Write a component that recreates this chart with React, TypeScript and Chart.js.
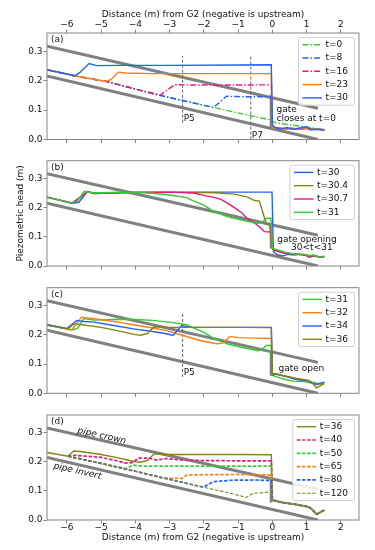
import React, { useEffect, useRef } from 'react';
import { Chart, registerables } from 'chart.js';
Chart.register(...registerables);

const FONT = '"DejaVu Sans", Verdana, sans-serif';
const X_MIN = -6.58, X_MAX = 2.53, Y_MIN = 0, Y_MAX = 0.362;
const xTickValues = [-6, -5, -4, -3, -2, -1, 0, 1, 2];
const yTickValues = [0, 0.1, 0.2, 0.3];
const X_TITLE = 'Distance (m) from G2 (negative is upstream)';
const Y_TITLE = 'Piezometric head (m)';

const GREEN = '#33cc33', BLUE = '#2160ff', MAGENTA = '#e8177f', ORANGE = '#ff7f0e', OLIVE = '#858510';
const GRAY = '#808080', FRAME = '#858585', TEXT = '#111';

// pipe geometry
const pipeX = [-6.58, 1.33];
const crownY = [0.317, 0.106];
const invertY = [0.216, 0.0];
const gateX = [-0.04, -0.04];
const gateA = [0.036, 0.152];
const gateB = [0.06, 0.14];
const gateC = [0.06, 0.147];
const gateD = [0.06, 0.14];
const p5X = [-2.62, -2.62];
const p5Y = [0.057, 0.284];
const p7X = [-0.63, -0.63];
const p7Y = [0.0, 0.284];

// Panel (a)
const a_t0_x = [-6.58, -5.76, -4.84, -3.28, -1.73, -0.6, -0.03, 0.0, 0.11, 0.5, 0.98, 1.3, 1.52];
const a_t0_y = [0.237, 0.216, 0.197, 0.150, 0.109, 0.080, 0.066, 0.062, 0.056, 0.050, 0.043, 0.037, 0.034];
const a_t8_x = [-6.58, -5.76, -4.84, -3.28, -1.73, -1.55, -1.34, -1.0, -0.5, -0.03, 0.0, 0.1, 0.5, 1.0, 1.3, 1.52];
const a_t8_y = [0.237, 0.216, 0.197, 0.150, 0.109, 0.125, 0.147, 0.146, 0.145, 0.146, 0.045, 0.040, 0.037, 0.036, 0.035, 0.033];
const a_t16_x = [-6.58, -5.76, -4.84, -3.28, -3.05, -2.85, -2.0, -1.0, -0.03, 0.0, 0.1, 0.5, 1.0, 1.3, 1.52];
const a_t16_y = [0.237, 0.216, 0.197, 0.150, 0.170, 0.186, 0.185, 0.185, 0.186, 0.045, 0.040, 0.037, 0.036, 0.035, 0.033];
const a_t23_x = [-6.58, -5.76, -4.84, -4.7, -4.5, -4.3, -3.5, -2.0, -1.0, -0.03, 0.0, 0.06, 0.2, 0.4, 0.55, 0.74, 0.93, 1.08, 1.27, 1.52];
const a_t23_y = [0.237, 0.216, 0.197, 0.205, 0.229, 0.226, 0.224, 0.224, 0.224, 0.224, 0.045, 0.037, 0.039, 0.033, 0.040, 0.034, 0.042, 0.034, 0.037, 0.033];
const a_t30_x = [-6.58, -5.76, -5.62, -5.35, -5.13, -4.5, -3.0, -1.0, -0.03, 0.0, 0.08, 0.25, 0.42, 0.6, 0.8, 1.0, 1.12, 1.3, 1.52];
const a_t30_y = [0.237, 0.217, 0.228, 0.258, 0.251, 0.252, 0.252, 0.253, 0.254, 0.05, 0.040, 0.035, 0.041, 0.035, 0.039, 0.043, 0.033, 0.035, 0.031];

// Panel (b)
const b_t30_x = [-6.58, -5.81, -5.65, -5.4, -5.2, -4.0, -2.0, -0.5, -0.01, 0.03, 0.15, 0.3, 0.45, 0.64, 0.8, 0.93, 1.08, 1.2, 1.37, 1.52];
const b_t30_y = [0.237, 0.216, 0.219, 0.256, 0.250, 0.253, 0.254, 0.254, 0.254, 0.049, 0.038, 0.035, 0.040, 0.038, 0.040, 0.038, 0.030, 0.034, 0.032, 0.033];
const b_t304_x = [-6.58, -5.85, -5.6, -5.4, -5.2, -4.0, -2.5, -1.69, -1.11, -0.72, -0.52, -0.38, -0.28, -0.18, -0.08, 0.0, 0.06, 0.35, 0.64, 0.93, 1.08, 1.2, 1.37, 1.52];
const b_t304_y = [0.237, 0.216, 0.235, 0.256, 0.249, 0.253, 0.253, 0.252, 0.247, 0.237, 0.225, 0.223, 0.185, 0.146, 0.140, 0.061, 0.055, 0.045, 0.041, 0.039, 0.031, 0.035, 0.031, 0.032];
const b_t307_x = [-6.58, -5.85, -5.6, -5.4, -5.2, -4.0, -3.0, -2.3, -2.0, -1.7, -1.5, -1.3, -1.1, -0.9, -0.7, -0.5, -0.33, -0.23, -0.03, 0.0, 0.06, 0.35, 0.64, 0.93, 1.08, 1.2, 1.37, 1.52];
const b_t307_y = [0.237, 0.216, 0.238, 0.256, 0.249, 0.253, 0.254, 0.251, 0.243, 0.236, 0.229, 0.215, 0.200, 0.183, 0.160, 0.146, 0.130, 0.118, 0.117, 0.06, 0.054, 0.044, 0.042, 0.038, 0.033, 0.036, 0.031, 0.032];
const t31_x = [-6.58, -5.85, -5.7, -5.5, -5.2, -4.5, -4.0, -3.5, -3.0, -2.5, -2.31, -2.0, -1.73, -1.3, -0.9, -0.43, -0.3, -0.18, -0.04, 0.0, 0.08, 0.35, 0.64, 0.93, 1.08, 1.2, 1.37, 1.52];
const t31_y = [0.235, 0.217, 0.222, 0.256, 0.251, 0.254, 0.253, 0.250, 0.244, 0.235, 0.224, 0.209, 0.189, 0.169, 0.158, 0.146, 0.150, 0.164, 0.164, 0.062, 0.058, 0.048, 0.041, 0.040, 0.036, 0.038, 0.031, 0.033];

// Panel (c)
const c_t32_x = [-6.58, -5.86, -5.75, -5.57, -5.4, -5.0, -4.5, -4.06, -3.5, -3.09, -2.6, -2.12, -1.63, -1.45, -1.24, -1.0, -0.5, -0.03, 0.0, 0.11, 0.5, 0.69, 1.03, 1.18, 1.3, 1.52];
const c_t32_y = [0.235, 0.217, 0.235, 0.261, 0.258, 0.252, 0.244, 0.235, 0.224, 0.215, 0.198, 0.181, 0.170, 0.172, 0.195, 0.191, 0.189, 0.188, 0.063, 0.065, 0.055, 0.048, 0.043, 0.035, 0.030, 0.034];
const c_t34_x = [-6.58, -6.0, -5.71, -5.5, -5.2, -4.8, -4.06, -3.5, -3.09, -2.9, -2.65, -2.4, -1.5, -0.5, -0.03, 0.0, 0.11, 0.5, 0.69, 1.03, 1.18, 1.3, 1.52];
const c_t34_y = [0.235, 0.222, 0.250, 0.246, 0.244, 0.236, 0.221, 0.212, 0.204, 0.198, 0.232, 0.226, 0.226, 0.226, 0.226, 0.063, 0.066, 0.055, 0.047, 0.043, 0.033, 0.031, 0.039];
const t36_x = [-6.58, -5.97, -5.8, -5.6, -5.0, -4.5, -4.23, -4.0, -3.85, -3.65, -3.45, -3.0, -2.0, -1.0, -0.03, 0.0, 0.08, 0.3, 0.69, 1.03, 1.13, 1.29, 1.52];
const t36_y = [0.233, 0.220, 0.238, 0.236, 0.226, 0.214, 0.207, 0.201, 0.199, 0.205, 0.228, 0.226, 0.226, 0.226, 0.225, 0.066, 0.068, 0.061, 0.052, 0.045, 0.040, 0.019, 0.034];

// Panel (d)
const d_t40_x = [-5.97, -5.75, -5.0, -4.5, -4.3, -4.1, -3.88, -3.6, -3.39, -3.1, -2.6, -2.0, -1.0, -0.03, 0.0, 0.08, 0.3, 0.69, 1.03, 1.13, 1.29, 1.52];
const d_t40_y = [0.220, 0.223, 0.216, 0.203, 0.196, 0.198, 0.214, 0.213, 0.207, 0.212, 0.206, 0.205, 0.204, 0.204, 0.069, 0.066, 0.060, 0.054, 0.046, 0.040, 0.020, 0.034];
const d_t50_x = [-5.97, -5.0, -4.27, -4.07, -3.8, -3.0, -2.0, -1.0, -0.03, 0.0, 0.08, 0.3, 0.69, 1.03, 1.13, 1.29, 1.52];
const d_t50_y = [0.220, 0.195, 0.177, 0.189, 0.186, 0.186, 0.186, 0.186, 0.186, 0.069, 0.066, 0.060, 0.054, 0.046, 0.040, 0.020, 0.034];
const d_t65_x = [-5.97, -5.0, -4.0, -3.2, -2.65, -2.5, -2.0, -1.0, -0.03, 0.0, 0.08, 0.3, 0.69, 1.03, 1.13, 1.29, 1.52];
const d_t65_y = [0.220, 0.195, 0.168, 0.144, 0.143, 0.155, 0.156, 0.157, 0.155, 0.069, 0.066, 0.060, 0.054, 0.046, 0.040, 0.020, 0.034];
const d_t80_x = [-5.97, -5.0, -4.0, -3.0, -2.02, -1.73, -1.2, -0.5, -0.03, 0.0, 0.08, 0.3, 0.69, 1.03, 1.13, 1.29, 1.52];
const d_t80_y = [0.220, 0.195, 0.168, 0.140, 0.113, 0.132, 0.137, 0.138, 0.136, 0.069, 0.066, 0.060, 0.054, 0.046, 0.040, 0.020, 0.034];
const d_t120_x = [-5.97, -5.0, -4.0, -3.0, -2.0, -1.25, -0.76, -0.56, -0.3, -0.03, 0.0, 0.08, 0.3, 0.69, 1.03, 1.13, 1.29, 1.52];
const d_t120_y = [0.220, 0.195, 0.168, 0.140, 0.113, 0.093, 0.078, 0.092, 0.094, 0.097, 0.069, 0.066, 0.060, 0.054, 0.046, 0.040, 0.020, 0.034];

type Series = { label: string; xs: number[]; ys: number[]; color: string; dash: number[]; width: number };
type Txt = { x: number; y: number; text: string; align?: CanvasTextAlign; italic?: boolean; rot?: number };
type Panel = {
  tag: string; top: number; h: number; padTop: number; padBottom: number; bottomAxisH: number;
  topAxis: boolean; bottomLabels: boolean; yTitle: boolean;
  series: Series[]; gateY: number[]; markers: { xs: number[]; ys: number[] }[]; texts: Txt[];
};

const DASHDOT = [6, 2, 1.5, 2];
const DASHED = [3.5, 1.7];

const PANELS: Panel[] = [
  {
    tag: '(a)', top: 0, h: 150, padTop: 0, padBottom: 0, bottomAxisH: 10.5, topAxis: true, bottomLabels: false, yTitle: false,
    series: [
      { label: 't=0', xs: a_t0_x, ys: a_t0_y, color: GREEN, dash: DASHDOT, width: 1.4 },
      { label: 't=8', xs: a_t8_x, ys: a_t8_y, color: BLUE, dash: DASHDOT, width: 1.4 },
      { label: 't=16', xs: a_t16_x, ys: a_t16_y, color: MAGENTA, dash: DASHDOT, width: 1.4 },
      { label: 't=23', xs: a_t23_x, ys: a_t23_y, color: ORANGE, dash: [], width: 1.4 },
      { label: 't=30', xs: a_t30_x, ys: a_t30_y, color: BLUE, dash: [], width: 1.4 },
    ],
    gateY: gateA,
    markers: [{ xs: p5X, ys: p5Y }, { xs: p7X, ys: p7Y }],
    texts: [
      { x: 0.12, y: 0.101, text: 'gate' },
      { x: 0.12, y: 0.072, text: 'closes at t=0' },
      { x: -2.59, y: 0.072, text: 'P5' },
      { x: -0.6, y: 0.014, text: 'P7' },
    ],
  },
  {
    tag: '(b)', top: 150, h: 126, padTop: 10.7, padBottom: 0, bottomAxisH: 10, topAxis: false, bottomLabels: false, yTitle: true,
    series: [
      { label: 't=30', xs: b_t30_x, ys: b_t30_y, color: BLUE, dash: [], width: 1.4 },
      { label: 't=30.4', xs: b_t304_x, ys: b_t304_y, color: OLIVE, dash: [], width: 1.4 },
      { label: 't=30.7', xs: b_t307_x, ys: b_t307_y, color: MAGENTA, dash: [], width: 1.4 },
      { label: 't=31', xs: t31_x, ys: t31_y, color: GREEN, dash: [], width: 1.4 },
    ],
    gateY: gateB,
    markers: [],
    texts: [
      { x: 1.88, y: 0.089, text: 'gate opening', align: 'right' },
      { x: 1.76, y: 0.063, text: '30<t<31', align: 'right' },
    ],
  },
  {
    tag: '(c)', top: 276, h: 127, padTop: 11.7, padBottom: 0, bottomAxisH: 9.7, topAxis: false, bottomLabels: false, yTitle: false,
    series: [
      { label: 't=31', xs: t31_x, ys: t31_y, color: GREEN, dash: [], width: 1.4 },
      { label: 't=32', xs: c_t32_x, ys: c_t32_y, color: ORANGE, dash: [], width: 1.4 },
      { label: 't=34', xs: c_t34_x, ys: c_t34_y, color: BLUE, dash: [], width: 1.4 },
      { label: 't=36', xs: t36_x, ys: t36_y, color: OLIVE, dash: [], width: 1.4 },
    ],
    gateY: gateC,
    markers: [{ xs: p5X, ys: [0.056, 0.278] }],
    texts: [
      { x: 0.18, y: 0.085, text: 'gate open' },
      { x: -2.59, y: 0.07, text: 'P5' },
    ],
  },
  {
    tag: '(d)', top: 403, h: 147, padTop: 12, padBottom: 0, bottomAxisH: 30, topAxis: false, bottomLabels: true, yTitle: false,
    series: [
      { label: 't=36', xs: t36_x, ys: t36_y, color: OLIVE, dash: [], width: 1.4 },
      { label: 't=40', xs: d_t40_x, ys: d_t40_y, color: MAGENTA, dash: DASHED, width: 1.7 },
      { label: 't=50', xs: d_t50_x, ys: d_t50_y, color: GREEN, dash: DASHED, width: 1.7 },
      { label: 't=65', xs: d_t65_x, ys: d_t65_y, color: ORANGE, dash: DASHED, width: 1.7 },
      { label: 't=80', xs: d_t80_x, ys: d_t80_y, color: BLUE, dash: DASHED, width: 1.7 },
      { label: 't=120', xs: d_t120_x, ys: d_t120_y, color: OLIVE, dash: DASHED, width: 1.1 },
    ],
    gateY: gateD,
    markers: [],
    texts: [
      { x: -4.98, y: 0.29, text: 'pipe crown', italic: true, rot: 12.8, align: 'center' },
      { x: -5.69, y: 0.168, text: 'pipe invert', italic: true, rot: 12.8, align: 'center' },
    ],
  },
];

const zip = (xs: number[], ys: number[]) => xs.map((x, i) => ({ x, y: ys[i] }));
const fmtX = (v: number) => (v < 0 ? '\u2212' + Math.abs(v) : String(v));

const decoPlugin = {
  id: 'deco',
  afterDatasetsDraw(chart: any, _args: any, opts: any) {
    const { ctx, chartArea: ca, scales } = chart;
    const xs = scales.x, ys = scales.y;
    ctx.save();
    ctx.setLineDash([]);
    ctx.strokeStyle = FRAME;
    ctx.lineWidth = 1;
    ctx.strokeRect(ca.left, ca.top, ca.right - ca.left, ca.bottom - ca.top);
    ctx.fillStyle = TEXT;
    ctx.font = `9px ${FONT}`;
    ctx.textBaseline = 'middle';
    ctx.textAlign = 'left';
    ctx.fillText(opts.tag, ca.left + 4, ca.top + 6.5);
    for (const t of opts.texts as Txt[]) {
      ctx.save();
      ctx.font = `${t.italic ? 'italic ' : ''}9px ${FONT}`;
      ctx.textAlign = t.align || 'left';
      ctx.textBaseline = 'middle';
      ctx.translate(xs.getPixelForValue(t.x), ys.getPixelForValue(t.y));
      if (t.rot) ctx.rotate((t.rot * Math.PI) / 180);
      ctx.fillText(t.text, 0, 0);
      ctx.restore();
    }
    // legend
    const items: Series[] = opts.legend;
    ctx.font = `9px ${FONT}`;
    const maxW = Math.max(...items.map((it) => ctx.measureText(it.label).width));
    const w = 27 + maxW + 6.5;
    const rowH = 13.3;
    const h = items.length * rowH + 1.2;
    const right = ca.right - 4.5, top = ca.top + 4.5, left = right - w;
    ctx.beginPath();
    if (ctx.roundRect) ctx.roundRect(left, top, w, h, 2.5); else ctx.rect(left, top, w, h);
    ctx.fillStyle = 'rgba(255,255,255,0.85)';
    ctx.fill();
    ctx.strokeStyle = '#d0d0d0';
    ctx.lineWidth = 1;
    ctx.stroke();
    items.forEach((it, i) => {
      const cy = top + 7.2 + i * rowH;
      ctx.strokeStyle = it.color;
      ctx.lineWidth = it.width;
      ctx.setLineDash(it.dash);
      ctx.beginPath();
      ctx.moveTo(left + 4, cy);
      ctx.lineTo(left + 23.5, cy);
      ctx.stroke();
      ctx.setLineDash([]);
      ctx.fillStyle = TEXT;
      ctx.textAlign = 'left';
      ctx.fillText(it.label, left + 27, cy);
    });
    ctx.restore();
  },
};

function gridOpts() {
  return { display: true, drawOnChartArea: false, drawTicks: true, tickLength: 3.5, tickColor: FRAME, tickWidth: 1 };
}

function buildConfig(p: Panel): any {
  const n = p.series.length;
  const datasets: any[] = [
    { data: zip(pipeX, crownY), borderColor: GRAY, borderWidth: 3, order: 1000 },
    { data: zip(pipeX, invertY), borderColor: GRAY, borderWidth: 3, order: 1000 },
    { data: zip(gateX, p.gateY), borderColor: GRAY, borderWidth: 2.5, order: 999 },
    ...p.markers.map((m) => ({ data: zip(m.xs, m.ys), borderColor: '#666', borderWidth: 1, borderDash: [3, 2], order: 998 })),
    ...p.series.map((s, i) => ({
      label: s.label, data: zip(s.xs, s.ys), borderColor: s.color, borderWidth: s.width, borderDash: s.dash, order: n - i,
    })),
  ];
  const xBase = {
    type: 'linear', min: X_MIN, max: X_MAX, bounds: 'data',
    grid: gridOpts(), border: { display: false },
    afterBuildTicks: (s: any) => { s.ticks = xTickValues.map((v) => ({ value: v })); },
  };
  const scales: any = {
    x: {
      ...xBase, position: 'bottom',
      ticks: { display: p.bottomLabels, padding: 0, color: TEXT, font: { family: FONT, size: 9, lineHeight: 1.0 }, callback: (v: any) => fmtX(Number(v)) },
      title: { display: p.bottomLabels, text: X_TITLE, color: TEXT, font: { family: FONT, size: 9, lineHeight: 1.2 }, padding: { top: 0, bottom: 6.9 } },
      afterFit: (s: any) => { s.height = p.bottomAxisH; s.paddingLeft = 0; s.paddingRight = 0; },
    },
    y: {
      type: 'linear', min: Y_MIN, max: Y_MAX, bounds: 'data', position: 'left',
      grid: gridOpts(), border: { display: false },
      afterBuildTicks: (s: any) => { s.ticks = yTickValues.map((v) => ({ value: v })); },
      ticks: { padding: 1, color: TEXT, font: { family: FONT, size: 9 }, callback: (v: any) => Number(v).toFixed(1) },
      title: { display: p.yTitle, text: Y_TITLE, color: TEXT, font: { family: FONT, size: 9, lineHeight: 1.2 }, padding: { top: 15.6, bottom: 0 } },
      afterFit: (s: any) => { s.width = 47; s.paddingTop = 0; s.paddingBottom = 0; },
    },
  };
  if (p.topAxis) {
    scales.xTop = {
      ...xBase, position: 'top',
      ticks: { display: true, padding: 0, color: TEXT, font: { family: FONT, size: 9, lineHeight: 1.0 }, callback: (v: any) => fmtX(Number(v)) },
      title: { display: true, text: X_TITLE, color: TEXT, font: { family: FONT, size: 9, lineHeight: 1.2 }, padding: { top: 9.6, bottom: 0 } },
      afterFit: (s: any) => { s.height = 33; s.paddingLeft = 0; s.paddingRight = 0; },
    };
  }
  return {
    type: 'line',
    data: { datasets },
    options: {
      responsive: false, animation: false, devicePixelRatio: 1, events: [],
      layout: { padding: { top: p.padTop, right: 16, bottom: p.padBottom, left: 0 } },
      elements: { point: { radius: 0 }, line: { tension: 0, borderCapStyle: 'butt', fill: false } },
      scales,
      plugins: {
        legend: { display: false }, tooltip: { enabled: false },
        deco: { tag: p.tag, texts: p.texts, legend: p.series },
      },
    },
    plugins: [decoPlugin],
  };
}

export default function App() {
  const refs = useRef<(HTMLCanvasElement | null)[]>([]);
  useEffect(() => {
    Chart.defaults.font.family = FONT;
    Chart.defaults.font.size = 9;
    Chart.defaults.color = TEXT;
    const charts = PANELS.map((p, i) => new Chart(refs.current[i] as HTMLCanvasElement, buildConfig(p)));
    return () => charts.forEach((c) => c.destroy());
  }, []);
  return (
    <div style={{ position: 'absolute', left: 0, top: 0, width: 375, height: 550, background: '#fff' }}>
      {PANELS.map((p, i) => (
        <canvas
          key={p.tag}
          ref={(el) => { refs.current[i] = el; }}
          width={375}
          height={p.h}
          style={{ position: 'absolute', left: 0, top: p.top, width: 375, height: p.h }}
        />
      ))}
    </div>
  );
}
